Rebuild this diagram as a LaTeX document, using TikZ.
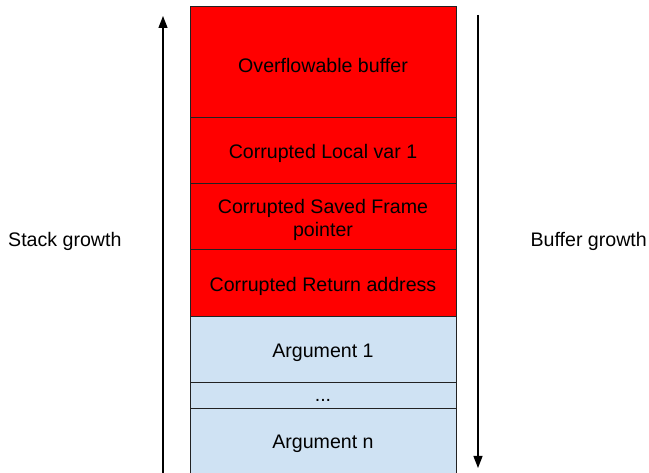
\documentclass[tikz,border=0pt]{standalone}
\usepackage{fontspec}
\setmainfont{Liberation Sans}
\usetikzlibrary{arrows.meta}
\definecolor{redfill}{HTML}{FF0000}
\definecolor{bluefill}{HTML}{CFE2F3}
\definecolor{edge}{HTML}{222222}
\tikzset{
  cell/.style={draw=edge, line width=1pt, rectangle, minimum width=266pt, inner sep=0pt},
  redcell/.style={cell, fill=redfill},
  bluecell/.style={cell, fill=bluefill},
  celltext/.style={inner sep=0pt, align=center, font=\fontsize{19.6}{23}\selectfont, text=black, yshift=-2.5pt},
  growth/.style={line width=1.3pt, draw=black, -{Triangle[length=12pt,width=9pt]}},
  lbl/.style={font=\fontsize{19.6}{23}\selectfont, inner sep=0pt}
}
\begin{document}
\begin{tikzpicture}[x=1pt,y=-1pt]
\useasboundingbox (0,0) rectangle (649,473);
\clip (0,0) rectangle (649,473);
\fill[white] (0,0) rectangle (649,473);
\node[redcell, minimum height=111pt] (buf) at (323,62.5) {};
\node[redcell, minimum height=66pt] (loc) at (323,151) {};
\node[redcell, minimum height=66pt] (sfp) at (323,217) {};
\node[redcell, minimum height=67pt] (ret) at (323,283.5) {};
\node[bluecell, minimum height=66pt] (arg1) at (323,350) {};
\node[bluecell, minimum height=26pt] (dots) at (323,396) {};
\node[bluecell, minimum height=70pt] (argn) at (323,444) {};
\node[celltext] (buft) at (buf.center) {Overflowable buffer};
\node[celltext] (loct) at (loc.center) {Corrupted Local var 1};
\node[celltext] (sfpt) at (sfp.center) {Corrupted Saved Frame\\pointer};
\node[celltext] (rett) at (ret.center) {Corrupted Return address};
\node[celltext] (arg1t) at (arg1.center) {Argument 1};
\node[lbl] (dotst) at (323,400) {...};
\node[lbl, yshift=-3pt] (argnt) at (323,441) {Argument n};
\coordinate (sb) at (163,480);
\coordinate (st) at (163,16);
\coordinate (bt) at (478,15);
\coordinate (bb) at (478,468);
\draw[growth] (sb) -- (st);
\draw[growth] (bt) -- (bb);
\node[lbl, anchor=west, yshift=-1pt] (sg) at (8,240) {Stack growth};
\node[lbl, anchor=east, yshift=-1pt] (bg) at (647,240) {Buffer growth};
\end{tikzpicture}
\end{document}
